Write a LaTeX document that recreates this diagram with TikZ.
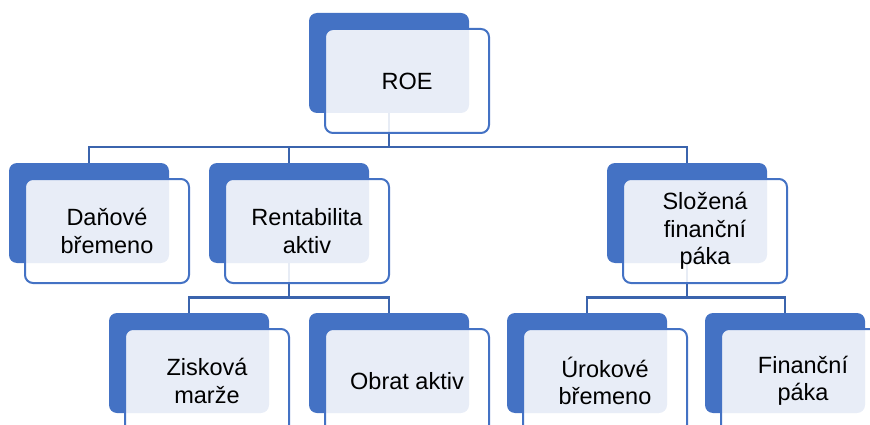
\documentclass[tikz,border=0pt]{standalone}
\usepackage{fontspec}
\setmainfont{Liberation Sans}
\usepackage{xcolor}
\usepackage{tikz}
\definecolor{boxblue}{HTML}{4472C4}
\definecolor{linkblue}{HTML}{3B64AD}

\begin{document}
\begin{tikzpicture}[x=1pt, y=1pt, node distance=200pt, semithick]
\tikzstyle{back}=[shape=rectangle, rounded corners=8pt, fill=boxblue,
                  minimum width=160pt, minimum height=100pt, inner sep=0pt]
\tikzstyle{front}=[shape=rectangle, rounded corners=8pt, draw=boxblue,
                  line width=2pt, fill=white, fill opacity=0.88, text opacity=1,
                  minimum width=164pt, minimum height=104pt, inner sep=2pt,
                  align=center, font=\fontsize{23.5}{27.5}\selectfont,
                  xshift=18pt, yshift=-18pt]
\tikzstyle{link}=[draw=linkblue, line width=2.4pt]
  \useasboundingbox (0,0) rectangle (870,-425);
  % back boxes
  \node[back] (Danb) at (89,-213) {};
  \node[back] (Rentb) [right of=Danb] {};
  \node[back] (Slozb) [right of=Rentb, node distance=398pt] {};
  \node[back] (ROEb) [above of=Rentb, node distance=150pt, xshift=100pt] {};
  %
  \node[back] (Ziskb) [below of=Rentb, node distance=150pt, xshift=-100pt] {};
  \node[back] (Obratb) [right of=Ziskb] {};
  \node[back] (Urokb) [below of=Slozb, node distance=150pt, xshift=-100pt] {};
  \node[back] (Finb) [right of=Urokb, node distance=198pt] {};
  %
  \path[link] (ROEb.south) -- ++(0,-34pt) -| (Danb.north);
  \path[link] (ROEb.south) -- ++(0,-34pt) -| (Rentb.north);
  \path[link] (ROEb.south) -- ++(0,-34pt) -| (Slozb.north);
  \path[link] (Rentb.south) -- ++(0,-34pt) -| (Ziskb.north);
  \path[link] (Rentb.south) -- ++(0,-34pt) -| (Obratb.north);
  \path[link] (Slozb.south) -- ++(0,-34pt) -| (Urokb.north);
  \path[link] (Slozb.south) -- ++(0,-34pt) -| (Finb.north);
  % front boxes
  \node[front] (ROE) at (ROEb) {ROE};
  \node[front] (Dan) at (Danb) {Daňové\\břemeno};
  \node[front] (Rent) at (Rentb) {Rentabilita\\aktiv};
  \node[front] (Sloz) at (Slozb) {Složená\\finanční\\páka};
  \node[front] (Zisk) at (Ziskb) {Zisková\\marže};
  \node[front] (Obrat) at (Obratb) {Obrat aktiv};
  \node[front] (Urok) at (Urokb) {Úrokové\\břemeno};
  \node[front] (Fin) at (Finb) {Finanční\\páka};
\end{tikzpicture}
\end{document}
